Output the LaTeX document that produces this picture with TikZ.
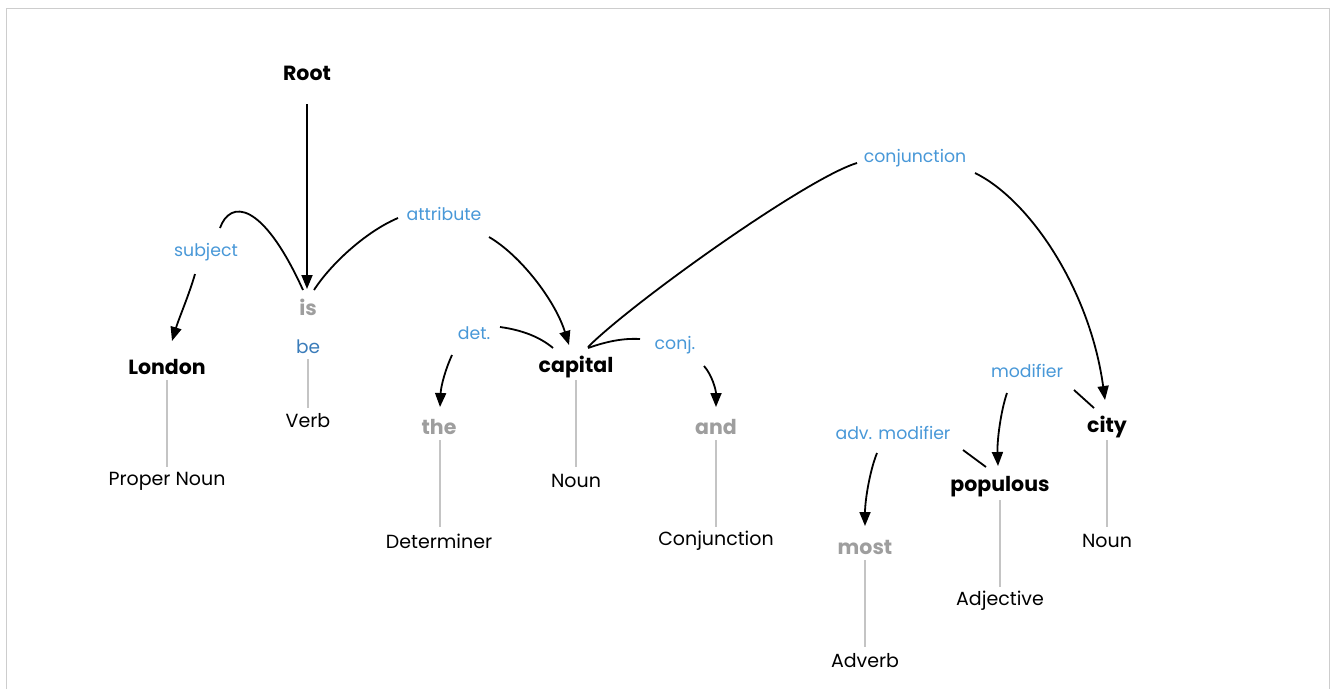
\documentclass[tikz,border=0pt]{standalone}
\usepackage{fontspec}
\setmainfont{Poppins}
\usetikzlibrary{arrows.meta}
\definecolor{lblblue}{RGB}{72,152,216}
\definecolor{lemblue}{RGB}{58,124,186}
\definecolor{wgray}{RGB}{158,158,158}
\definecolor{lgray}{RGB}{196,196,196}
\definecolor{framegray}{RGB}{205,205,205}
\tikzset{
  word/.style={inner sep=0pt, font=\fontsize{20.5}{22}\selectfont\bfseries, text=black},
  gword/.style={word, text=wgray},
  postag/.style={inner sep=0pt, font=\fontsize{19}{22}\selectfont, text=black},
  rel/.style={inner sep=0pt, font=\fontsize{17.3}{20}\selectfont, text=lblblue},
  lemma/.style={inner sep=0pt, font=\fontsize{18.5}{20}\selectfont, text=lemblue},
  arr/.style={line width=1.8pt, -{Triangle[length=14pt,width=11pt]}},
  seg/.style={line width=1.8pt},
  stem/.style={line width=1.8pt, draw=lgray},
}
\begin{document}
\begin{tikzpicture}[x=1pt,y=-1pt]
\useasboundingbox (0,0) rectangle (1335,689);
\fill[white] (0,0) rectangle (1335,689);
\draw[framegray, line width=1pt] (6,689) -- (6,8.5) -- (1329,8.5) -- (1329,689);

% words
\node[word]  (root)    at (307,73)  {Root};
\node[gword] (is)      at (308,307) {is};
\node[lemma] (be)      at (308,347) {be};
\node[postag]   (verb)    at (308,421) {Verb};
\node[word]  (london)  at (167,367) {London};
\node[postag]   (propn)   at (167,481) {Proper Noun};
\node[gword] (the)     at (439,427) {the};
\node[postag]   (detp)     at (439,541) {Determiner};
\node[word]  (capital) at (576,367) {capital};
\node[postag]   (noun1)   at (576,481) {Noun};
\node[gword] (and)     at (716,427) {and};
\node[postag]   (cconj)   at (716,541) {Conjunction};
\node[gword] (most)    at (865,547) {most};
\node[postag]   (adv)     at (865,661) {Adverb};
\node[word]  (populous) at (1000,487) {populous};
\node[postag]   (adj)     at (1000,601) {Adjective};
\node[word]  (city)    at (1107,427) {city};
\node[postag]   (noun2)   at (1107,541) {Noun};

% relation labels
\node[rel] (lsubj)  at (206,252) {subject};
\node[rel] (lattr)  at (444,214) {attribute};
\node[rel] (ldet)   at (474,333) {det.};
\node[rel] (lconj)  at (675,345) {conj.};
\node[rel] (lconjn) at (915,158) {conjunction};
\node[rel] (lmod)   at (1027,371) {modifier};
\node[rel] (ladv)   at (893,433) {adv. modifier};

% stems
\draw[stem] ([shift={(0,12)}]be.center) -- ([shift={(0,-13)}]verb.center);
\draw[stem] ([shift={(0,13)}]london.center) -- ([shift={(0,-14)}]propn.center);
\draw[stem] ([shift={(1,13)}]the.center) -- ([shift={(1,-14)}]detp.center);
\draw[stem] ([shift={(0,13)}]capital.center) -- ([shift={(0,-14)}]noun1.center);
\draw[stem] ([shift={(0,13)}]and.center) -- ([shift={(0,-14)}]cconj.center);
\draw[stem] ([shift={(0,13)}]most.center) -- ([shift={(0,-14)}]adv.center);
\draw[stem] ([shift={(0,13)}]populous.center) -- ([shift={(0,-14)}]adj.center);
\draw[stem] ([shift={(0,13)}]city.center) -- ([shift={(0,-14)}]noun2.center);

% root
\draw[arr] ([shift={(0,31)}]root.center) -- ([shift={(-1,-18)}]is.center);

% subject
\draw[seg] ([shift={(-5,-17)}]is.center) .. controls (262,200) and (230,200) .. ([shift={(14,-24)}]lsubj.center);
\draw[arr] ([shift={(-11,22)}]lsubj.center) .. controls (189,295) and (179,318) .. ([shift={(5,-26)}]london.center);

% attribute
\draw[seg] ([shift={(6,-17)}]is.center) .. controls (330,265) and (365,232) .. ([shift={(-46,4)}]lattr.center);
\draw[arr] ([shift={(45,23)}]lattr.center) .. controls (520,255) and (555,300) .. ([shift={(-7,-22)}]capital.center);

% det
\draw[seg] ([shift={(26,-6)}]ldet.center) .. controls (522,330) and (540,337) .. ([shift={(-23,-19)}]capital.center);
\draw[arr] ([shift={(-22,22)}]ldet.center) .. controls (446,368) and (441,385) .. ([shift={(1,-20)}]the.center);

% conj.
\draw[seg] ([shift={(12,-19)}]capital.center) .. controls (605,342) and (622,338) .. ([shift={(-35,-6)}]lconj.center);
\draw[arr] ([shift={(29,21)}]lconj.center) .. controls (712,375) and (716,390) .. ([shift={(0,-20)}]and.center);

% conjunction
\draw[seg] ([shift={(12,-20)}]capital.center) .. controls (633,302) and (807,178) .. ([shift={(-58,5)}]lconjn.center);
\draw[arr] ([shift={(60,15)}]lconjn.center) .. controls (1030,200) and (1090,290) .. ([shift={(-2,-27)}]city.center);

% modifier
\draw[seg] ([shift={(-13,-19)}]city.center) -- ([shift={(47,19)}]lmod.center);
\draw[arr] ([shift={(-20,22)}]lmod.center) .. controls (1001,410) and (997,440) .. ([shift={(-2,-21)}]populous.center);

% adv. modifier
\draw[seg] ([shift={(-14,-20)}]populous.center) -- ([shift={(70,17)}]ladv.center);
\draw[arr] ([shift={(-16,20)}]ladv.center) .. controls (870,470) and (865,500) .. ([shift={(0,-21)}]most.center);
\end{tikzpicture}
\end{document}
